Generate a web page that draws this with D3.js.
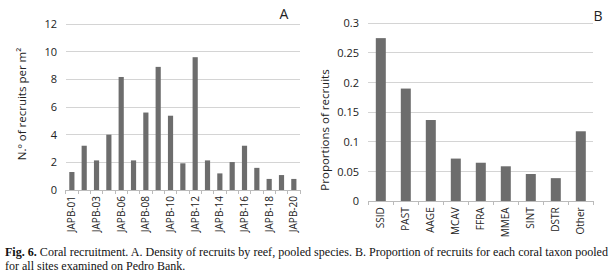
<!DOCTYPE html>
<html><head><meta charset="utf-8">
<script src="https://cdn.jsdelivr.net/npm/d3@7"></script>
<style>body{margin:0;background:#fff}svg{display:block}</style>
</head><body>
<svg id="c" width="613" height="276"></svg>
<script>
const reefs = ["JAPB-01","JAPB-02","JAPB-03","JAPB-05","JAPB-06","JAPB-07","JAPB-08","JAPB-09","JAPB-10","JAPB-11","JAPB-12","JAPB-13","JAPB-14","JAPB-15","JAPB-16","JAPB-17","JAPB-18","JAPB-19","JAPB-20"];
const density = [1.3,3.2,2.14,4.0,8.17,2.14,5.6,8.9,5.37,1.93,9.6,2.14,1.2,2.02,3.2,1.6,0.8,1.08,0.8];
const densityTicks = [0,2,4,6,8,10,12];
const taxa = ["SSID","PAST","AAGE","MCAV","FFRA","MMEA","SINT","DSTR","Other"];
const proportion = [0.275,0.190,0.137,0.072,0.065,0.059,0.046,0.039,0.118];
const propTicks = [0,0.05,0.1,0.15,0.2,0.25,0.3];

const svg = d3.select("#c");
const FONT = "'Open Sans', 'DejaVu Sans', sans-serif";
const grid = "#d4d4d4", bar = "#6d6d6d", txt = "#222";

function panel(o){
  const g = svg.append("g");
  const x = d3.scaleBand().domain(o.cats).range([o.x0,o.x1]).paddingInner(o.pad).paddingOuter(o.pad/2);
  const y = d3.scaleLinear().domain([0,o.max]).range([o.y0,o.y1]);
  g.selectAll(".gl").data(o.ticks.slice(1)).join("line")
    .attr("x1",o.x0).attr("x2",o.x1+o.gridExt).attr("y1",d=>y(d)).attr("y2",d=>y(d))
    .attr("stroke",grid).attr("stroke-width",1).attr("shape-rendering","crispEdges");
  const ya = d3.axisLeft(y).tickValues(o.ticks).tickSize(0).tickPadding(0).tickFormat(o.fmt);
  const yg = g.append("g").attr("transform",`translate(${o.labX},0)`).call(ya);
  yg.select(".domain").remove();
  yg.selectAll("text").attr("font-family",FONT).attr("font-size",11).attr("fill",txt);
  g.selectAll(".b").data(o.vals).join("rect")
    .attr("x",(d,i)=>x(o.cats[i])).attr("width",x.bandwidth())
    .attr("y",d=>y(d)).attr("height",d=>y(0)-y(d)).attr("fill",bar);
  g.append("line").attr("x1",o.x0).attr("x2",o.x1).attr("y1",y(0)).attr("y2",y(0))
    .attr("stroke","#bbb").attr("shape-rendering","crispEdges");
  const step = (o.x1-o.x0)/o.cats.length;
  g.selectAll(".tk").data(d3.range(o.cats.length+1)).join("line")
    .attr("x1",i=>o.x0+i*step).attr("x2",i=>o.x0+i*step)
    .attr("y1",y(0)).attr("y2",y(0)+4).attr("stroke","#bbb").attr("shape-rendering","crispEdges");
  g.selectAll(".xl").data(o.cats.map((c,i)=>[c,i]).filter(d=>d[1]%o.every===0)).join("text")
    .attr("transform",d=>`translate(${x(d[0])+x.bandwidth()/2+3.5},${y(0)+6}) rotate(-90)`)
    .attr("text-anchor","end").attr("font-family",FONT).attr("font-size",o.xfs).attr("fill",txt)
    .text(d=>d[0]);
  g.append("text").attr("transform",`translate(${o.titleX},${o.titleY}) rotate(-90)`)
    .attr("text-anchor","middle").attr("font-family",FONT).attr("font-size",11.5).attr("fill",txt)
    .text(o.title);
  g.append("text").attr("x",o.letX).attr("y",o.letY).attr("text-anchor","middle")
    .attr("font-family",FONT).attr("font-size",14).attr("fill",txt).text(o.letter);
}

panel({cats:reefs, vals:density, ticks:densityTicks, max:12, fmt:d3.format("d"),
  x0:65.7, x1:300, y0:190, y1:24, pad:0.58, gridExt:0, labX:57, every:2, xfs:10,
  title:"N.º of recruits per m²", titleX:26, titleY:104, letter:"A", letX:284, letY:19});
panel({cats:taxa, vals:proportion, ticks:propTicks, max:0.3, fmt:d=>d===0?"0":String(+d.toFixed(2)),
  x0:368.3, x1:593.3, y0:201.3, y1:23.3, pad:0.6, gridExt:0, labX:359, every:1, xfs:10,
  title:"Proportions of recruits", titleX:329, titleY:130, letter:"B", letX:598, letY:21});

const cap = svg.append("g").attr("font-family","'Liberation Serif','Times New Roman',serif").attr("font-size",12).attr("fill","#111");
const l1 = cap.append("text").attr("x",5).attr("y",256).attr("textLength",603).attr("lengthAdjust","spacingAndGlyphs");
l1.append("tspan").attr("font-weight","bold").text("Fig. 6.");
l1.append("tspan").text(" Coral recruitment. A. Density of recruits by reef, pooled species. B. Proportion of recruits for each coral taxon pooled");
cap.append("text").attr("x",5).attr("y",270).text("for all sites examined on Pedro Bank.");
</script>
</body></html>
